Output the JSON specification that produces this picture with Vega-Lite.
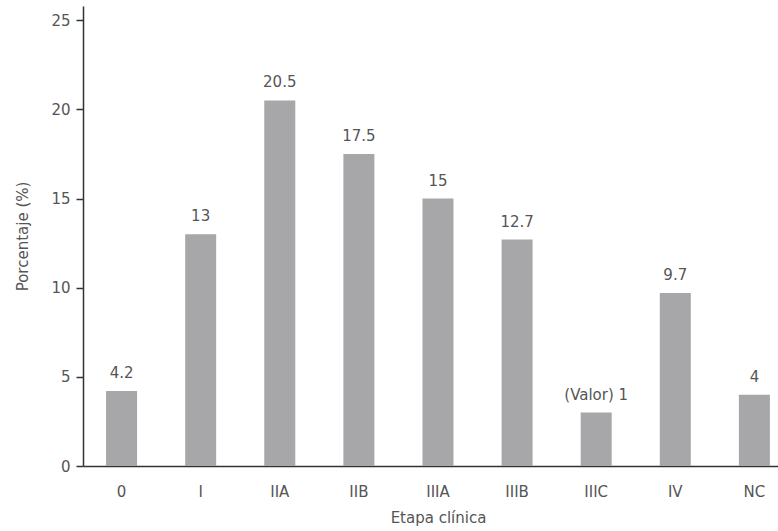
{
  "$schema": "https://vega.github.io/schema/vega-lite/v6.json",
  "width": 695,
  "height": 460,
  "autosize": {"type": "none"},
  "padding": {"left": 83, "top": 6, "right": 0, "bottom": 65},
  "background": "white",
  "config": {
    "view": {"stroke": null},
    "font": "DejaVu Sans",
    "axis": {
      "labelFont": "DejaVu Sans",
      "titleFont": "DejaVu Sans",
      "labelFontSize": 15,
      "titleFontSize": 15,
      "titleFontWeight": "normal",
      "labelColor": "#555555",
      "titleColor": "#555555",
      "domainColor": "#333333",
      "domainWidth": 1.5,
      "tickColor": "#333333",
      "tickWidth": 1.5,
      "grid": false
    }
  },
  "data": {
    "values": [
      {"etapa": "0", "valor": 4.2, "label": "4.2"},
      {"etapa": "I", "valor": 13, "label": "13"},
      {"etapa": "IIA", "valor": 20.5, "label": "20.5"},
      {"etapa": "IIB", "valor": 17.5, "label": "17.5"},
      {"etapa": "IIIA", "valor": 15, "label": "15"},
      {"etapa": "IIIB", "valor": 12.7, "label": "12.7"},
      {"etapa": "IIIC", "valor": 3, "label": "(Valor) 1"},
      {"etapa": "IV", "valor": 9.7, "label": "9.7"},
      {"etapa": "NC", "valor": 4, "label": "4"}
    ]
  },
  "encoding": {
    "x": {
      "field": "etapa",
      "type": "nominal",
      "sort": null,
      "scale": {"paddingInner": 0.608, "paddingOuter": 0.197, "align": 0.74},
      "axis": {
        "title": "Etapa clínica",
        "labelAngle": 0,
        "ticks": false,
        "labelPadding": 18,
        "titlePadding": 11,
        "titleX": 355
      }
    },
    "y": {
      "field": "valor",
      "type": "quantitative",
      "scale": {"domain": [0, 25.8], "nice": false},
      "axis": {
        "title": "Porcentaje (%)",
        "values": [0, 5, 10, 15, 20, 25],
        "tickSize": 7,
        "labelPadding": 6,
        "titlePadding": 20
      }
    }
  },
  "layer": [
    {"mark": {"type": "bar", "color": "#a7a7aa"}},
    {
      "mark": {"type": "text", "baseline": "bottom", "dy": -10, "fontSize": 15, "color": "#555555", "font": "DejaVu Sans"},
      "encoding": {"text": {"field": "label"}}
    }
  ]
}
